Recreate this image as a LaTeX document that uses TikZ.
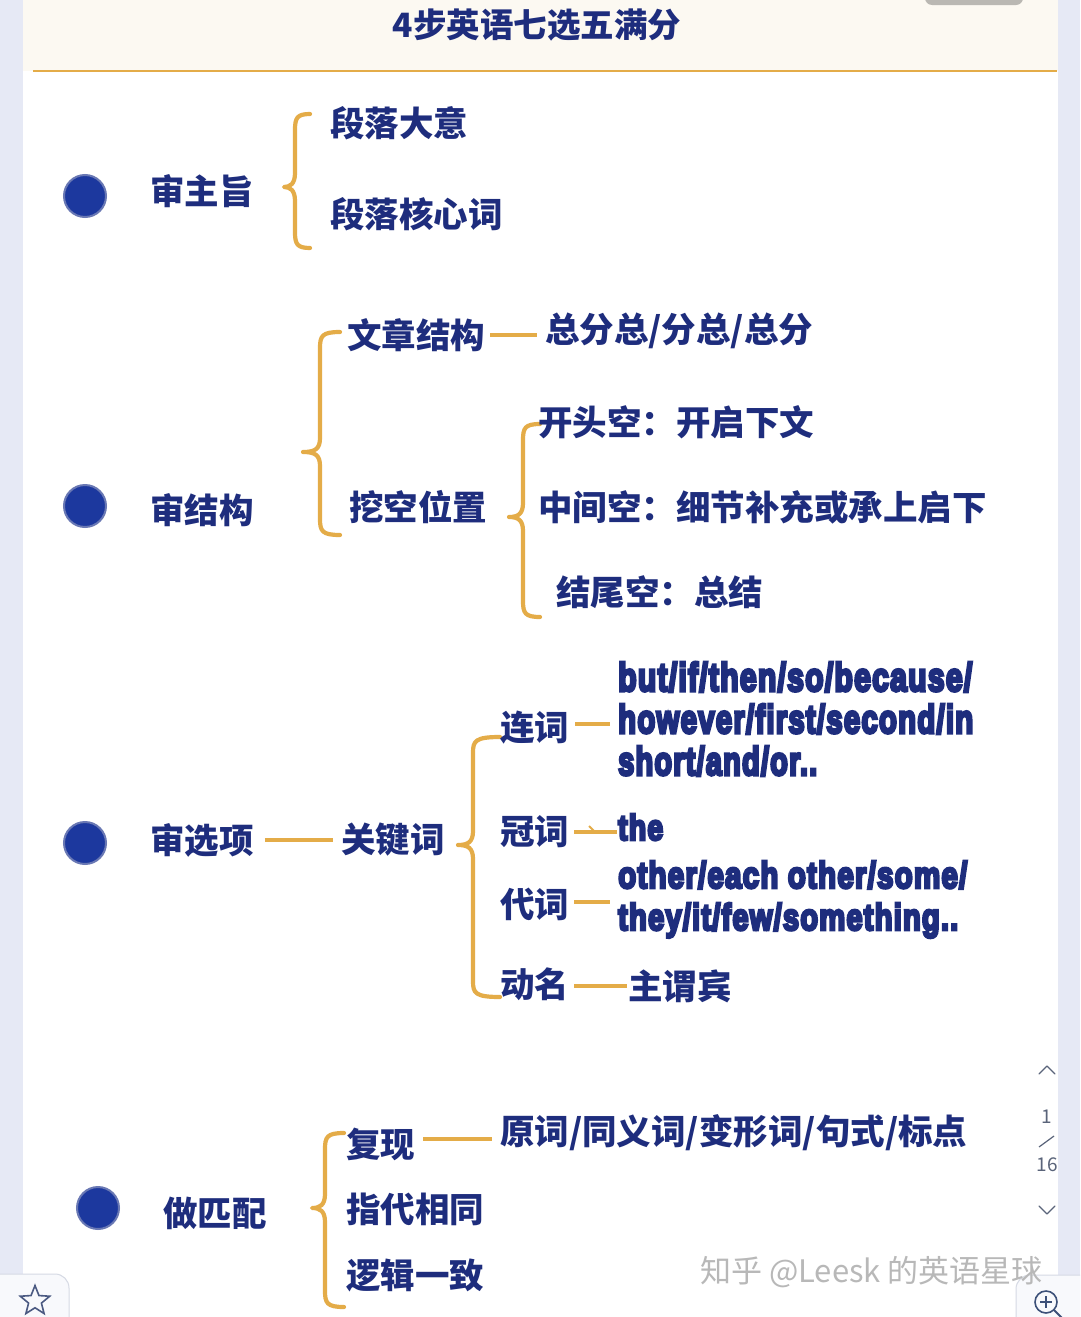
\documentclass[tikz,border=0pt]{standalone}
\usepackage{fontspec}
\usetikzlibrary{shapes.geometric}
\newfontfamily\cjk{Noto Sans CJK SC}
\newfontfamily\enfont{Liberation Sans}[LetterSpace=4]
\definecolor{navy}{RGB}{30,45,125}
\definecolor{gold}{RGB}{228,172,72}
\definecolor{dotblue}{RGB}{28,56,158}
\definecolor{dotring}{RGB}{105,120,180}
\definecolor{lav}{RGB}{230,233,245}
\definecolor{beige}{RGB}{252,249,242}
\definecolor{uigray}{RGB}{90,100,122}
\definecolor{boxfill}{RGB}{248,249,252}
\definecolor{boxline}{RGB}{214,218,228}
\definecolor{iconcol}{RGB}{60,80,120}
\definecolor{starcol}{RGB}{75,90,130}
\newcommand\heavytxt[1]{\special{pdf:literal direct 2 Tr 0.75 w}#1\special{pdf:literal direct 0 Tr}}
\newcommand\entxt[3]{\resizebox{#1pt}{#2pt}{\enfont\bfseries\heavytxt{#3}}}
\newcommand\obrace[6]{%
  \draw[bracestyle] (#1,#4) .. controls (#2+2,#4) and (#2,#4+4) .. (#2,#4+16)
    -- (#2,#5-14) .. controls (#2,#5-3) and (#2-5,#5) .. (#3,#5)
    .. controls (#2-5,#5) and (#2,#5+3) .. (#2,#5+14)
    -- (#2,#6-16) .. controls (#2,#6-4) and (#2+2,#6) .. (#1,#6);}
\tikzset{
  bracestyle/.style={draw=gold, line width=4.2pt, line cap=round, line join=round},
  conn/.style={draw=gold, line width=3.6pt},
  txt/.style={font=\cjk\bfseries\fontsize{34.5}{40}\selectfont, text=navy, anchor=west, inner sep=0pt},
  entext/.style={anchor=base west, inner sep=0pt, text=navy},
  bullet/.style={circle, fill=dotblue, draw=dotring, line width=2pt, minimum size=42pt, inner sep=0pt},
  uitext/.style={font=\cjk\fontsize{19}{22}\selectfont, text=uigray, inner sep=0pt},
}
\begin{document}
\begin{tikzpicture}[x=1pt,y=-1pt]
\useasboundingbox (0,0) rectangle (1080,1317);
\clip (0,0) rectangle (1080,1317);
% backgrounds
\fill[lav] (0,0) rectangle (1080,1317);
\fill[white] (23,0) rectangle (1058,1317);
\fill[beige] (23,0) rectangle (1058,71);
\fill[black!26!beige, rounded corners=7pt] (925,-20) rectangle (1023,5);
\draw[gold, line width=2.6pt] (33,71) -- (1057,71);
% title
\node[font=\cjk\bfseries\fontsize{33.5}{38}\selectfont, text=navy, inner sep=0pt] (title) at (537,25) {4步英语七选五满分};

% ---------- section 1
\node[bullet] (d1) at (85,196) {};
\node[txt] (s1) at (150,191) {审主旨};
\obrace{310}{295}{284}{114}{187}{248}
\node[txt] (s1a) at (330,123) {段落大意};
\node[txt] (s1b) at (330,214) {段落核心词};

% ---------- section 2
\node[bullet] (d2) at (85,506) {};
\node[txt] (s2) at (150,510) {审结构};
\obrace{340}{320}{303}{332}{452}{535}
\node[txt] (wzjg) at (347,335) {文章结构};
\node[txt] (zfz) at (545,331) {总分总/分总/总分};
\draw[conn] ([xshift=5pt]wzjg.east) -- ([xshift=-8pt]wzjg.east -| zfz.west);
\node[txt] (wkwz) at (349,507) {挖空位置};
\obrace{540}{523}{509}{424}{517}{617}
\node[txt] (kt) at (538,422) {开头空：开启下文};
\node[txt] (zj) at (538,507) {中间空：细节补充或承上启下};
\node[txt] (jw) at (556,592) {结尾空：总结};

% ---------- section 3
\node[bullet] (d3) at (85,843) {};
\node[txt] (s3) at (150,840) {审选项};
\node[txt] (gjc) at (341,840) {关键词};
\draw[conn] ([xshift=11pt]s3.east) -- ([xshift=-8pt]gjc.west);
\obrace{500}{473}{458}{737}{845}{997}
\node[txt] (lc) at (500,728) {连词};
\node[txt] (gc) at (500,832) {冠词};
\node[txt] (dc) at (500,904) {代词};
\node[txt] (dm) at (500,984) {动名};
\node[entext] (ena) at (618,691) {\entxt{354}{29}{but/if/then/so/because/}};
\node[entext] (enb) at (618,733) {\entxt{355}{29}{however/first/second/in}};
\node[entext] (enc) at (618,775) {\entxt{199}{29}{short/and/or..}};
\node[entext] (the) at (618,840) {\entxt{45}{26}{the}};
\node[entext] (ota) at (618,888) {\entxt{349}{27}{other/each other/some/}};
\node[entext] (otb) at (618,930) {\entxt{340}{27}{they/it/few/something..}};
\node[txt] (zwb) at (628,986) {主谓宾};
\coordinate (lcend) at (610,724);
\coordinate (dcend) at (610,902);
\draw[conn] ([xshift=6pt]lc.east |- lcend) -- (lcend);
\draw[conn] ([xshift=5pt]gc.east) -- ([xshift=-1pt]gc.east -| the.west);
\draw[gold, line width=2pt] (589,826) -- (594,831);
\draw[conn] ([xshift=5pt]dc.east |- dcend) -- (dcend);
\draw[conn] ([xshift=5pt]dm.east |- zwb.west) -- ([xshift=-1pt]zwb.west);

% ---------- section 4
\node[bullet] (d4) at (98,1208) {};
\node[txt] (s4) at (163,1213) {做匹配};
\obrace{344}{325}{312}{1133}{1208}{1307}
\node[txt] (fx) at (346,1144) {复现};
\node[txt] (fxr) at (500,1133) {原词/同义词/变形词/句式/标点};
\coordinate (fxs) at (423,1139);
\draw[conn] (fxs) -- ([xshift=-8pt]fxs -| fxr.west);
\node[txt] (zd) at (346,1209) {指代相同};
\node[txt] (lj) at (346,1275) {逻辑一致};

% ---------- UI
\draw[uigray, line width=1.3pt, line cap=round, line join=round] (1039,1074) -- (1047,1066) -- (1055,1074);
\node[uitext] (pg1) at (1047,1117) {1};
\draw[uigray, line width=1.2pt] (1039,1147) -- (1054,1136);
\node[uitext] (pg16) at (1047,1165) {16};
\draw[uigray, line width=1.3pt, line cap=round, line join=round] (1039,1206) -- (1047,1214) -- (1055,1206);
% bottom-left box with star
\draw[fill=boxfill, draw=boxline, line width=1pt, rounded corners=14pt] (-20,1274) rectangle (69,1340);
\node[star, star points=5, star point ratio=2.3, draw=starcol, line width=1.6pt, minimum size=31pt, inner sep=0pt] (starbtn) at (35,1301) {};
% bottom-right box with zoom icon
\draw[fill=boxfill, draw=boxline, line width=1pt, rounded corners=14pt] (1016,1275) rectangle (1110,1340);
\draw[iconcol, line width=1.6pt] (1046,1302) circle (11);
\draw[iconcol, line width=1.4pt] (1040,1302) -- (1052,1302) (1046,1296) -- (1046,1308);
\draw[iconcol, line width=2pt] (1054,1310) -- (1062,1318);
% watermark
\node[font=\cjk\fontsize{31}{36}\selectfont, text=black!28, anchor=west, inner sep=0pt] (wm) at (700,1272) {知乎 @Leesk 的英语星球};
\end{tikzpicture}
\end{document}
